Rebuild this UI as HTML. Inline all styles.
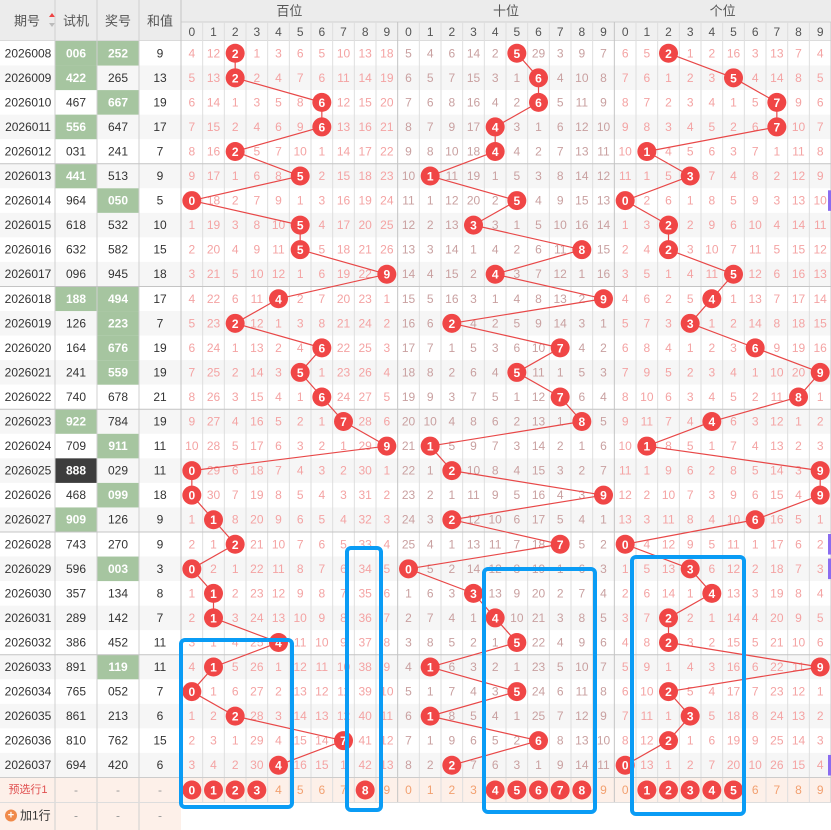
<!DOCTYPE html>
<html><head><meta charset="utf-8"><style>
html,body{margin:0;padding:0;background:#fff;width:831px;height:830px;overflow:hidden}
svg{display:block;font-family:"Liberation Sans","Noto Sans CJK SC",sans-serif}
</style></head><body>
<svg id="s" width="831" height="830" xmlns="http://www.w3.org/2000/svg"></svg>
<script>
const rows=[["2026008","006","252",9],["2026009","422","265",13],["2026010","467","667",19],["2026011","556","647",17],["2026012","031","241",7],
["2026013","441","513",9],["2026014","964","050",5],["2026015","618","532",10],["2026016","632","582",15],["2026017","096","945",18],
["2026018","188","494",17],["2026019","126","223",7],["2026020","164","676",19],["2026021","241","559",19],["2026022","740","678",21],
["2026023","922","784",19],["2026024","709","911",11],["2026025","888","029",11],["2026026","468","099",18],["2026027","909","126",9],
["2026028","743","270",9],["2026029","596","003",3],["2026030","357","134",8],["2026031","289","142",7],["2026032","386","452",11],
["2026033","891","119",11],["2026034","765","052",7],["2026035","861","213",6],["2026036","810","762",15],["2026037","694","420",6]];
const shiG=["006","422","556","441","188","922","909"],jiangG=["252","667","050","494","223","676","559","911","099","003","119"];
const init=[[4,12,0,1,3,6,5,10,13,18],[5,4,6,14,2,0,29,3,9,7],[6,5,0,1,2,16,3,13,7,4]];
const RT=41,RH=24.55,CX0=181,CW=21.667;
let h='';
const rect=(x,y,w,hh,f)=>h+=`<rect x="${x}" y="${y}" width="${w}" height="${hh}" fill="${f}"/>`;
const line=(x1,y1,x2,y2,c,w)=>h+=`<line x1="${x1}" y1="${y1}" x2="${x2}" y2="${y2}" stroke="${c}" stroke-width="${w||1}"/>`;
const text=(x,y,t,c,s,b)=>h+=`<text x="${x}" y="${y}" fill="${c}" font-size="${s||12}" ${b?'font-weight="bold"':''} text-anchor="middle" dominant-baseline="central">${t}</text>`;
// header
rect(0,0,831,41,"#ececec");rect(181,22,650,19,"#f0f0f0");
line(181,22,831,22,"#d0d0d0");line(0,41,831,41,"#c8c8c8");
text(27,21,"期号","#555",13);
h+=`<polygon points="49,17 52,13 55,17" fill="#e44"/><polygon points="49,23 52,27 55,23" fill="#bbb"/>`;
text(76,21,"试机","#555",13);text(118,21,"奖号","#555",13);text(160,21,"和值","#555",13);
["百位","十位","个位"].forEach((g,i)=>text(CX0+CW*10*i+CW*5,11,g,"#555",13));
for(let j=0;j<30;j++)text(CX0+CW*j+CW/2,32,j%10,"#555",12);
// rows bg
rows.forEach((r,i)=>{const y=RT+RH*i;rect(0,y,831,RH,i%2?"#f6f6f6":"#fff");});
const fy=RT+RH*30;rect(0,fy,831,25,"#fdf0e9");rect(0,fy+25,181,830-fy-25,"#fdf0e9");
// left cells
rows.forEach((r,i)=>{const y=RT+RH*i,cy=y+RH/2;
 text(28,cy,r[0],"#333",12);
 if(r[1]=="888"){rect(55,y,42,RH,"#3d3d3d");text(76,cy,r[1],"#fff",12,1);}
 else if(shiG.includes(r[1])){rect(55,y,42,RH,"#a6c5a0");text(76,cy,r[1],"#fff",12,1);}
 else text(76,cy,r[1],"#333",12);
 if(jiangG.includes(r[2])){rect(97,y,42,RH,"#a6c5a0");text(118,cy,r[2],"#fff",12,1);}
 else text(118,cy,r[2],"#333",12);
 text(160,cy,r[3],"#333",12);
});
// vertical grid
[55,97,139].forEach(x=>line(x,0,x,830,"#d0d0d0"));
for(let j=0;j<=30;j++){const x=CX0+CW*j;line(x,j==0?0:22,x,fy+25,j%10==0?"#c4c4c4":"#dedede");}
// group separators
for(let k=5;k<30;k+=5)line(0,RT+RH*k,831,RT+RH*k,"#c4c4c4");
line(0,fy,831,fy,"#ccc");line(0,fy+25,831,fy+25,"#ddd");
// compute misses
const numColor=["#f4a3a3","#c9a0a0","#f4a3a3"];
let balls=[];
for(let p=0;p<3;p++){let cur=init[p].slice();let pts=[];
 rows.forEach((r,i)=>{const d=+r[2][p];
  if(i>0){for(let k=0;k<10;k++)cur[k]=(k==d)?0:cur[k]+1;}
  const y=RT+RH*i+RH/2;
  for(let k=0;k<10;k++){const x=CX0+CW*(p*10+k)+CW/2;
   if(k==d){pts.push([x,y]);balls.push([x,y,k]);}else text(x,y,cur[k],numColor[p],12);}
 });
 for(let i=1;i<pts.length;i++)line(pts[i-1][0],pts[i-1][1],pts[i][0],pts[i][1],"#e84848",1.2);
}
balls.forEach(b=>{h+=`<circle cx="${b[0]}" cy="${b[1]}" r="9.5" fill="#f04646"/>`;text(b[0],b[1]+0.5,b[2],"#fff",12,1);});
// footer
const fc=fy+12.5;
text(28,fc,"预选行1","#e05050",11);text(76,fc,"-","#999");text(118,fc,"-","#999");text(160,fc,"-","#999");
const fb=[[0,1,2,3,8],[4,5,6,7,8],[1,2,3,4,5]];
for(let p=0;p<3;p++)for(let k=0;k<10;k++){const x=CX0+CW*(p*10+k)+CW/2;
 if(fb[p].includes(k)){h+=`<circle cx="${x}" cy="${fc}" r="9.5" fill="#f04646"/>`;text(x,fc+0.5,k,"#fff",12,1);}
 else text(x,fc,k,"#f2a070",12);}
const ay=fy+25+13;
h+=`<circle cx="11" cy="${ay}" r="6" fill="#f08a4a"/>`;text(11,ay,"+","#fff",11,1);
h+=`<text x="20" y="${ay}" fill="#333" font-size="12" dominant-baseline="central">加1行</text>`;
text(76,ay,"-","#999");text(118,ay,"-","#999");text(160,ay,"-","#999");
// purple marks
[6,20,21,29].forEach(i=>rect(828,RT+RH*i+2,3,RH-4,"#8a6cf0"));
// blue boxes
const bx=[[181,640,111,167],[347,548,34,262],[484,569,111,243],[632,557,112,257]];
bx.forEach(b=>h+=`<rect x="${b[0]}" y="${b[1]}" width="${b[2]}" height="${b[3]}" rx="4" fill="none" stroke="#0a9cf5" stroke-width="4"/>`);
document.getElementById('s').innerHTML=h;
</script>
</body></html>
